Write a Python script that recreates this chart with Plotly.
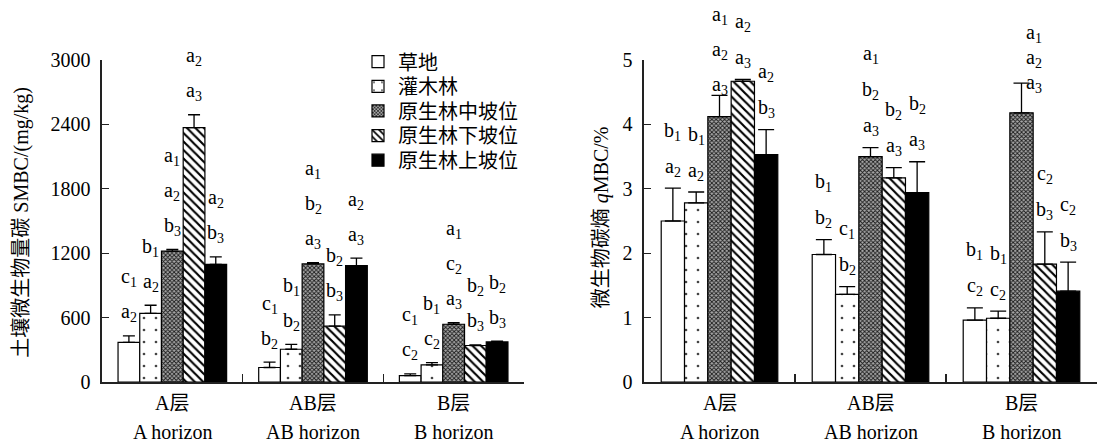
import plotly.graph_objects as go

# ---------------- data ----------------
categories = ["A层", "AB层", "B层"]
categories_en = ["A horizon", "AB horizon", "B horizon"]
series_names = ["草地", "灌木林", "原生林中坡位", "原生林下坡位", "原生林上坡位"]

# SMBC (mg/kg)
smbc_grass = [370, 135, 60]
smbc_shrub = [640, 305, 160]
smbc_mid = [1220, 1100, 538]
smbc_low = [2370, 520, 340]
smbc_up = [1095, 1085, 373]
smbc_grass_err = [60, 50, 15]
smbc_shrub_err = [75, 45, 20]
smbc_mid_err = [15, 12, 16]
smbc_low_err = [120, 105, 5]
smbc_up_err = [70, 70, 8]

# qMBC (%)
qmbc_grass = [2.50, 1.98, 0.96]
qmbc_shrub = [2.78, 1.36, 0.99]
qmbc_mid = [4.12, 3.50, 4.18]
qmbc_low = [4.67, 3.17, 1.83]
qmbc_up = [3.53, 2.94, 1.41]
qmbc_grass_err = [0.51, 0.23, 0.19]
qmbc_shrub_err = [0.17, 0.12, 0.11]
qmbc_mid_err = [0.33, 0.14, 0.46]
qmbc_low_err = [0.03, 0.16, 0.50]
qmbc_up_err = [0.39, 0.48, 0.45]

# significance letters (top to bottom), per series, per horizon
smbc_letters_grass = [["c1", "a2"], ["c1", "b2"], ["c1", "c2"]]
smbc_letters_shrub = [["b1", "a2"], ["b1", "b2"], ["b1", "c2"]]
smbc_letters_mid = [["a1", "a2", "b3"], ["a1", "b2", "a3"], ["a1", "c2", "a3"]]
smbc_letters_low = [["a2", "a3"], ["b2", "b3"], ["b2", "b3"]]
smbc_letters_up = [["a2", "b3"], ["a2", "a3"], ["b2", "b3"]]

qmbc_letters_grass = [["b1", "a2"], ["b1", "b2"], ["b1", "c2"]]
qmbc_letters_shrub = [["b1", "a2"], ["c1", "b2"], ["b1", "c2"]]
qmbc_letters_mid = [["a1", "a2", "a3"], ["a1", "b2", "a3"], ["a1", "a2", "a3"]]
qmbc_letters_low = [["a2", "a3"], ["b2", "a3"], ["c2", "b3"]]
qmbc_letters_up = [["a2", "b3"], ["b2", "a3"], ["c2", "b3"]]

left_ticks = [0, 600, 1200, 1800, 2400, 3000]
right_ticks = [0, 1, 2, 3, 4, 5]

# ---------------- style ----------------
W, H = 1097, 445
M_T, M_B = 60, 63.3
PLOT_H = H - M_T - M_B
LEFT_DOM = [102 / W, 524 / W]
RIGHT_DOM = [644 / W, 1.0]
BARGAP = 0.228
LAT = "Liberation Serif, Times New Roman, Noto Sans CJK SC, serif"
FS = 20

styles = [
    dict(color="white", pattern=dict(shape="")),
    dict(color="white", pattern=dict(shape=".", size=12, solidity=0.04, fgcolor="#444", bgcolor="white", fillmode="replace")),
    dict(color="#808080", pattern=dict(shape="x", size=3, solidity=0.5, fgcolor="#1a1a1a", bgcolor="#a8a8a8", fillmode="replace")),
    dict(color="white", pattern=dict(shape="\\", size=6, solidity=0.36, fgcolor="black", bgcolor="white", fillmode="replace")),
    dict(color="black", pattern=dict(shape="")),
]

smbc_vals = [smbc_grass, smbc_shrub, smbc_mid, smbc_low, smbc_up]
smbc_errs = [smbc_grass_err, smbc_shrub_err, smbc_mid_err, smbc_low_err, smbc_up_err]
smbc_lets = [smbc_letters_grass, smbc_letters_shrub, smbc_letters_mid, smbc_letters_low, smbc_letters_up]
qmbc_vals = [qmbc_grass, qmbc_shrub, qmbc_mid, qmbc_low, qmbc_up]
qmbc_errs = [qmbc_grass_err, qmbc_shrub_err, qmbc_mid_err, qmbc_low_err, qmbc_up_err]
qmbc_lets = [qmbc_letters_grass, qmbc_letters_shrub, qmbc_letters_mid, qmbc_letters_low, qmbc_letters_up]


def ypx(p):
    return (H - M_B - p) / PLOT_H


legend_ids = ["legend", "legend2", "legend3", "legend4", "legend5"]

fig = go.Figure()

for i, name in enumerate(series_names):
    st = styles[i]
    fig.add_trace(go.Bar(
        x=categories, y=smbc_vals[i], name=name, xaxis="x", yaxis="y",
        marker=dict(color=st["color"], pattern=st["pattern"], line=dict(color="black", width=1.2)),
        error_y=dict(type="data", symmetric=False, array=smbc_errs[i], arrayminus=[0, 0, 0],
                     color="black", thickness=1.3, width=6),
        showlegend=True, legend=legend_ids[i],
    ))
for i, name in enumerate(series_names):
    st = styles[i]
    fig.add_trace(go.Bar(
        x=categories, y=qmbc_vals[i], name=name, xaxis="x2", yaxis="y2",
        marker=dict(color=st["color"], pattern=st["pattern"], line=dict(color="black", width=1.2)),
        error_y=dict(type="data", symmetric=False, array=qmbc_errs[i], arrayminus=[0, 0, 0],
                     color="black", thickness=1.3, width=8),
        showlegend=False,
    ))

annotations = []


def letter_text(s):
    return f"{s[0]}<sub>{s[1]}</sub>"


def add_letters(vals, errs, lets, xref, yref, dom, base, spacing, special):
    cat_px = (dom[1] - dom[0]) * W / 3
    bar_px = cat_px * (1 - BARGAP) / 5
    for i in range(5):
        for j, cat in enumerate(categories):
            labels = lets[i][j]
            b, sp, xs = special.get((i, j), (base, spacing, 0))
            n = len(labels)
            for k, lab in enumerate(labels):
                level = n - 1 - k
                annotations.append(dict(
                    x=cat, y=vals[i][j] + errs[i][j], xref=xref, yref=yref,
                    text=letter_text(lab), showarrow=False,
                    xanchor="center", yanchor="middle",
                    xshift=(i - 2) * bar_px + xs, yshift=b + sp * level,
                    font=dict(family=LAT, size=FS, color="black"),
                ))


add_letters(smbc_vals, smbc_errs, smbc_lets, "x", "y", LEFT_DOM, 23, 35, {})
add_letters(qmbc_vals, qmbc_errs, qmbc_lets, "x2", "y2", RIGHT_DOM, 21, 36,
            {(2, 0): (10, 35, 0), (2, 2): (0, 25, 12)})

for xr in ["x", "x2"]:
    for j, cat in enumerate(categories):
        annotations.append(dict(x=cat, y=ypx(403), xref=xr, yref="paper", text=cat,
                                showarrow=False, xanchor="center", yanchor="middle",
                                font=dict(family=LAT, size=FS, color="black")))
        annotations.append(dict(x=cat, y=ypx(432), xref=xr, yref="paper", text=categories_en[j],
                                showarrow=False, xanchor="center", yanchor="middle",
                                font=dict(family=LAT, size=FS, color="black")))

annotations.append(dict(x=22 / W, y=ypx(222.5), xref="paper", yref="paper",
                        text="土壤微生物量碳 SMBC/(mg/kg)", textangle=-90, showarrow=False,
                        xanchor="center", yanchor="middle",
                        font=dict(family=LAT, size=20, color="black")))
annotations.append(dict(x=601 / W, y=ypx(217), xref="paper", yref="paper",
                        text="微生物碳熵 <i>q</i>MBC/%", textangle=-90, showarrow=False,
                        xanchor="center", yanchor="middle",
                        font=dict(family=LAT, size=20, color="black")))

axis_common = dict(showline=True, linecolor="#222", linewidth=1.6, mirror=False,
                   showgrid=False, zeroline=False)

legend_rows_px = [61.7, 86.3, 110.9, 135.5, 160.1]
legend_layout = {}
for i, lid in enumerate(legend_ids):
    legend_layout[lid] = dict(x=358 / W, xanchor="left", y=ypx(legend_rows_px[i]), yanchor="middle",
                              bgcolor="rgba(0,0,0,0)", borderwidth=0,
                              font=dict(family=LAT, size=20, color="black"),
                              itemclick=False, itemdoubleclick=False)

fig.update_layout(
    width=W, height=H,
    margin=dict(l=0, r=0, t=M_T, b=M_B, pad=0),
    paper_bgcolor="white", plot_bgcolor="white",
    barmode="group", bargap=BARGAP, bargroupgap=0,
    font=dict(family=LAT, size=FS, color="black"),
    xaxis=dict(domain=LEFT_DOM, anchor="y", type="category", range=[-0.5, 2.5],
               ticks="inside", tickson="boundaries", ticklen=8, tickcolor="#222", tickwidth=1.3,
               showticklabels=False, **axis_common),
    yaxis=dict(domain=[0, 1], anchor="x", range=[0, 3000], tickvals=left_ticks,
               ticks="inside", ticklen=7, tickcolor="#222", tickwidth=1.3,
               tickfont=dict(family=LAT, size=FS, color="black"), ticklabelstandoff=6,
               **axis_common),
    xaxis2=dict(domain=RIGHT_DOM, anchor="y2", type="category", range=[-0.5, 2.5],
                ticks="inside", tickson="boundaries", ticklen=8, tickcolor="#222", tickwidth=1.3,
                showticklabels=False, **axis_common),
    yaxis2=dict(domain=[0, 1], anchor="x2", range=[0, 5], tickvals=right_ticks,
                ticks="inside", ticklen=7, tickcolor="#222", tickwidth=1.3,
                tickfont=dict(family=LAT, size=FS, color="black"), ticklabelstandoff=6,
                **axis_common),
    annotations=annotations,
    showlegend=True,
    hovermode=False,
    **legend_layout,
)

fig.write_html("out.html", config={"displayModeBar": False, "staticPlot": True},
               post_script="document.body.style.margin='0px';")
